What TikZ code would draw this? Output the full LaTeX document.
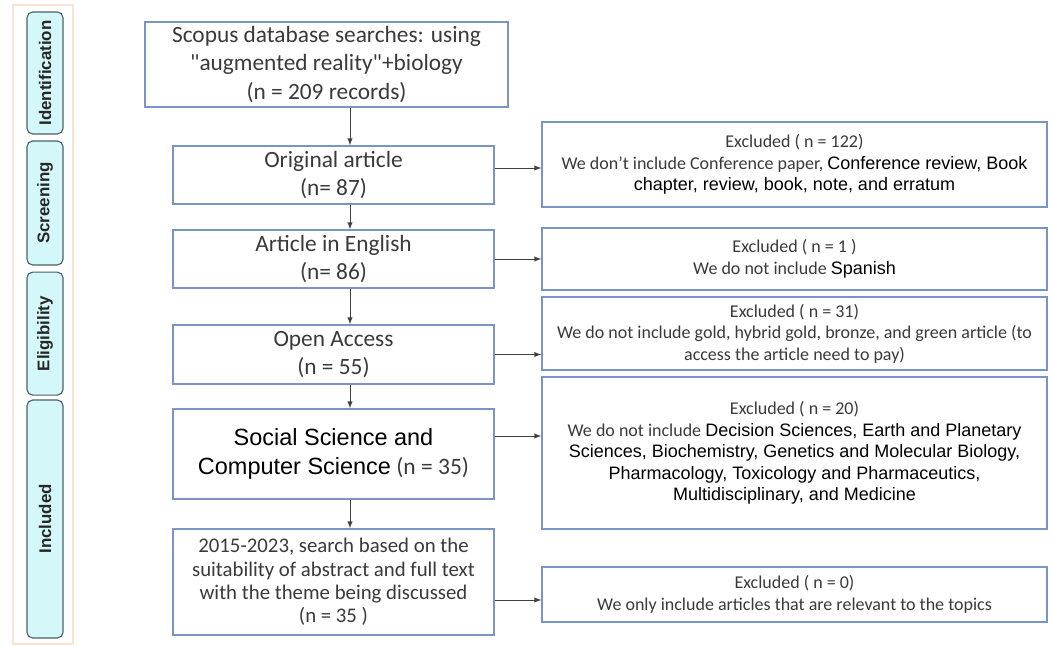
\documentclass[tikz,border=0pt]{standalone}
\usepackage{fontspec}
\setmainfont{Carlito}[Ligatures=TeXOff]
\newfontfamily\arialfont{Liberation Sans}
\usetikzlibrary{arrows,positioning}
\definecolor{boxblue}{RGB}{122,148,196}
\definecolor{phasefill}{RGB}{212,247,250}
\definecolor{phaseedge}{RGB}{72,98,104}
\definecolor{peach}{RGB}{250,226,212}
\definecolor{textgray}{RGB}{58,58,58}
\definecolor{arrowgray}{RGB}{64,64,64}
\newcommand{\arialtxt}[1]{{\arialfont\color{black}#1}}

\tikzset{
  mainbox/.style={draw=boxblue, line width=1pt, fill=white, align=center,
    minimum width=8.025cm, text=textgray, font=\fontsize{16.6}{20}\selectfont},
  exbox/.style={draw=boxblue, line width=1pt, fill=white, align=center,
    minimum width=12.625cm, text=textgray, font=\fontsize{12.8}{15.3}\selectfont},
  phase/.style={draw=phaseedge, fill=phasefill, rounded corners=4pt, line width=0.8pt,
    rotate=90, minimum height=0.9cm, text=black!85,
    font=\arialfont\bfseries\fontsize{12}{14}\selectfont},
  arr/.style={-latex, draw=arrowgray, line width=0.7pt}
}

\begin{document}
\begin{tikzpicture}[scale=1.0]
  \useasboundingbox (0,0) rectangle (26.3,-16.15);

  % Phase strip on the left
  \draw[peach, line width=0.8pt] (0.325,-0.125) rectangle (1.825,-16.1);
  \node[phase, minimum width=3.05cm] (ident) at (1.125,-1.825) {Identification};
  \node[phase, minimum width=3.1cm] (screen) at (1.125,-5.075) {Screening};
  \node[phase, minimum width=3.075cm] (elig) at (1.125,-8.34) {Eligibility};
  \node[phase, minimum width=5.95cm] (incl) at (1.125,-12.975) {Included};

  % Main flow
  \node[mainbox, minimum width=9.075cm, minimum height=2.125cm] (src) at (8.1625,-1.6125)
    {Scopus database searches: using\\"augmented reality"+biology\\(n = 209 records)};
  \node[mainbox, minimum height=1.45cm] (orig) at (8.3375,-4.375) {Original article\\(n= 87)};
  \node[mainbox, minimum height=1.45cm] (eng) at (8.3375,-6.475) {Article in English\\(n= 86)};
  \node[mainbox, minimum height=1.475cm] (oa) at (8.3375,-8.8625) {Open Access\\(n = 55)};
  \node[mainbox, minimum height=2.25cm, font=\fontsize{16.7}{20.6}\selectfont] (soc) at (8.3375,-11.35)
    {\arialtxt{Social Science and}\\\arialtxt{Computer Science} (n = 35)};
  \node[mainbox, minimum height=2.65cm, font=\fontsize{14.8}{16.6}\selectfont] (yr) at (8.3375,-14.55)
    {2015-2023, search based on the\\suitability of abstract and full text\\with the theme being discussed\\(n = 35 )};

  % Excluded records
  \node[exbox, minimum height=2.125cm] (ex1) at (19.8625,-4.1125)
    {Excluded ( n = 122)\\We don’t include Conference paper, \arialtxt{Conference review, Book}\\\arialtxt{chapter, review, book, note, and erratum}};
  \node[exbox, minimum height=1.55cm] (ex2) at (19.8625,-6.475)
    {Excluded ( n = 1 )\\We do not include \arialtxt{Spanish}};
  \node[exbox, minimum height=1.825cm] (ex3) at (19.8625,-8.3375)
    {Excluded ( n = 31)\\We do not include gold, hybrid gold, bronze, and green article (to\\access the article need to pay)};
  \node[exbox, minimum height=3.8cm] (ex4) at (19.8625,-11.325)
    {Excluded ( n = 20)\\We do not include \arialtxt{Decision Sciences, Earth and Planetary}\\\arialtxt{Sciences, Biochemistry, Genetics and Molecular Biology,}\\\arialtxt{Pharmacology, Toxicology and Pharmaceutics,}\\\arialtxt{Multidisciplinary, and Medicine}};
  \node[exbox, minimum height=1.375cm] (ex5) at (19.8625,-14.8625)
    {Excluded ( n = 0)\\We only include articles that are relevant to the topics};

  % Downward arrows
  \coordinate (spine) at (8.75,0);
  \draw[arr] (src.south -| spine) -- (orig.north -| spine);
  \draw[arr] (orig.south -| spine) -- (eng.north -| spine);
  \draw[arr] (eng.south -| spine) -- (oa.north -| spine);
  \draw[arr] (oa.south -| spine) -- (soc.north -| spine);
  \draw[arr] (soc.south -| spine) -- (yr.north -| spine);

  % Side arrows
  \draw[arr] ([yshift=0.175cm]orig.east) -- ([yshift=0.175cm]orig.east -| ex1.west);
  \draw[arr] (eng.east) -- (eng.east -| ex2.west);
  \draw[arr] (oa.east) -- (oa.east -| ex3.west);
  \draw[arr] ([yshift=0.45cm]soc.east) -- ([yshift=0.45cm]soc.east -| ex4.west);
  \draw[arr] ([yshift=-0.45cm]yr.east) -- ([yshift=-0.45cm]yr.east -| ex5.west);
\end{tikzpicture}
\end{document}
